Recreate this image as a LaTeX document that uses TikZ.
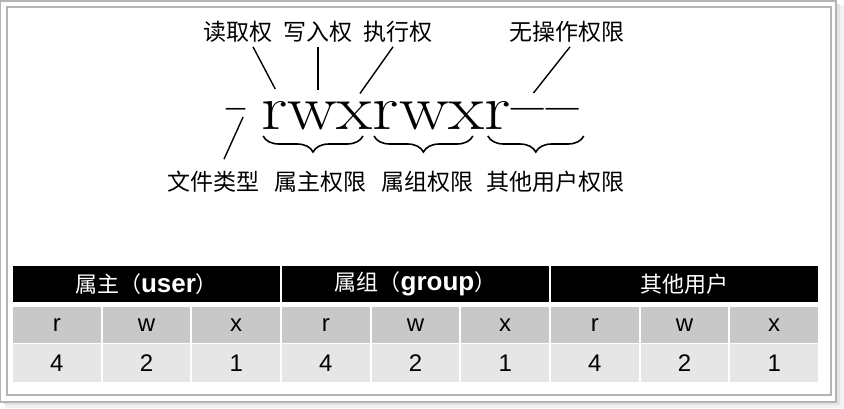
\documentclass[tikz,border=0pt]{standalone}
\usepackage{fontspec}
\usepackage{graphicx}
\usepackage{tikz}
\usetikzlibrary{positioning}
\usetikzlibrary{calc}
\usetikzlibrary{decorations.pathreplacing}
\newfontfamily\cjk{Noto Sans CJK SC}
\newfontfamily\arial{Liberation Sans}
\newcommand\permfont{\fontsize{64bp}{64bp}\selectfont}
\newcommand\permch[1]{\scalebox{1.16}[1]{#1}}
\newcommand\permdash[1]{\raisebox{-7bp}{\scalebox{#1}[1.6]{\textendash}}}
\newcommand\headlatin[1]{{\arial\bfseries\fontsize{26bp}{26bp}\selectfont #1}}
\definecolor{framegray}{HTML}{B4B4B4}
\definecolor{rowdark}{HTML}{C8C8C8}
\definecolor{rowlight}{HTML}{E6E6E6}
\tikzset{
    permchar/.style={font=\permfont, inner sep=0pt, outer sep=0pt},
    lbl/.style={font=\cjk\fontsize{23bp}{26bp}\selectfont, inner sep=0pt},
    leader/.style={line width=1.4bp},
    grp/.style={decorate, decoration={brace, mirror, amplitude=16bp}, line width=1.6bp},
    headcell/.style={fill=black, text=white, minimum width=267bp, minimum height=36bp, inner sep=0pt, font=\cjk\fontsize{22bp}{26bp}\selectfont},
    bitcell/.style={fill=rowdark, minimum width=87.7bp, minimum height=36bp, inner sep=0pt, font=\arial\fontsize{24bp}{26bp}\selectfont},
    valcell/.style={bitcell, fill=rowlight, minimum height=37.5bp},
}

\begin{document}
\begin{tikzpicture}[x=1bp, y=-1bp]
    \useasboundingbox (0,0) rectangle (844,408);
    \fill[gray!10] (5,5) rectangle (844,408);
    \fill[gray!22] (4,4) rectangle (840,405);
    \fill[white] (0,0) rectangle (836,402);
    \draw[framegray, line width=1.5bp] (0.75,0.75) rectangle (836,402);
    \draw[framegray, line width=1.2bp] (7,7) rectangle (831,395);

    \node[permchar, anchor=base west] (ft) at (226,129) {\permdash{0.65}};
    \node[permchar, base right=16bp of ft] (r1) {\permch{r}};
    \node[permchar, base right=0pt of r1] (w1) {\permch{w}};
    \node[permchar, base right=0pt of w1] (x1) {\permch{x}};
    \node[permchar, base right=0pt of x1] (r2) {\permch{r}};
    \node[permchar, base right=0pt of r2] (w2) {\permch{w}};
    \node[permchar, base right=0pt of w2] (x2) {\permch{x}};
    \node[permchar, base right=0pt of x2] (r3) {\permch{r}};
    \node[permchar, base right=0pt of r3] (d1) {\permdash{1.1}};
    \node[permchar, base right=3bp of d1] (d2) {\permdash{1.1}};

    \node[lbl] (read) at (238,32) {读取权};
    \node[lbl] (write) at (318,32) {写入权};
    \node[lbl] (exec) at (398,32) {执行权};
    \node[lbl] (none) at (567,32) {无操作权限};
    \node[lbl] (ftype) at (213,182) {文件类型};
    \node[lbl] (owner) at (320,182) {属主权限};
    \node[lbl] (group) at (427,182) {属组权限};
    \node[lbl] (other) at (555,182) {其他用户权限};

    \draw[leader] ($(read.south)+(15,4)$) -- ($(r1.north)+(1,-12)$);
    \draw[leader] ($(write.south)+(0,4)$) -- ($(write.south |- w1.north)+(0,-11)$);
    \draw[leader] ($(exec.south)+(-5,4)$) -- ($(x1.north)+(5,-8)$);
    \draw[leader] ($(none.south)+(3,4)$) -- ($(d1.base east)+(-10,-36)$);
    \draw[leader] ($(ftype.north)+(11,-12)$) -- ($(ft.base east)+(-2,-12)$);

    \draw[grp] ($(r1.base west)+(2,7)$) -- ($(x1.base east)+(-10,7)$);
    \draw[grp] ($(r2.base west)+(1,7)$) -- ($(x2.base east)+(-12,7)$);
    \draw[grp] ($(r3.base west)+(3,7)$) -- ($(d2.base east)+(5,7)$);

    \foreach \h [count=\i] in {属主（\headlatin{user}）, 属组（\headlatin{group}）, 其他用户} {
        \node[headcell] (h\i) at ({12+(\i-0.5)*269},284) {\h};
    }
    \foreach \b [count=\i] in {r,w,x,r,w,x,r,w,x} {
        \node[bitcell] (b\i) at ({12+(\i-0.5)*89.67},325) {\b};
    }
    \foreach \v [count=\i] in {4,2,1,4,2,1,4,2,1} {
        \node[valcell] (v\i) at ({12+(\i-0.5)*89.67},363) {\v};
    }
\end{tikzpicture}
\end{document}
